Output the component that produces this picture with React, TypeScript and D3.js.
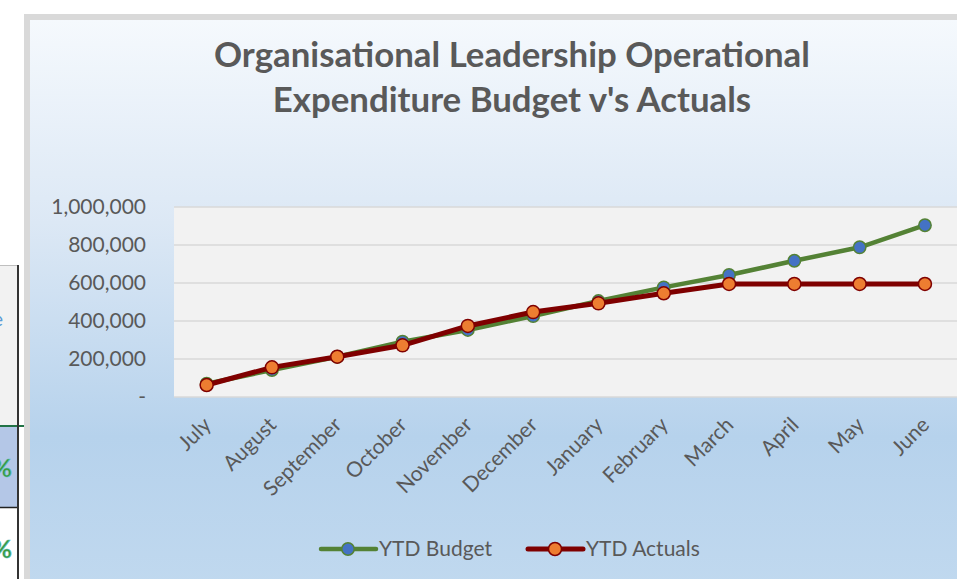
import React from "react";
import * as d3 from "d3";

const months = ["July","August","September","October","November","December","January","February","March","April","May","June"];
const budget = [70000,142000,212000,291000,353000,426000,505000,577000,642000,717000,788000,904000];
const actuals = [63000,156000,212000,272000,374000,447000,493000,546000,595000,595000,595000,595000];
const yTicks = [0,200000,400000,600000,800000,1000000];
const titleLines = ["Organisational Leadership Operational","Expenditure Budget v's Actuals"];
const seriesNames = ["YTD Budget","YTD Actuals"];

const W = 957, H = 579;
const FONT = "Lato, 'Open Sans', sans-serif";
const TXT = "#595959";

export default function App() {
  const x = d3.scaleBand<string>().domain(months).range([174, 957.6]).padding(0);
  const y = d3.scaleLinear().domain([0, 1000000]).range([397, 207]);
  const cx = (m: string) => (x(m) as number) + x.bandwidth() / 2;
  const line = d3.line<number>().x((_, i) => cx(months[i])).y(d => y(d));
  const fmt = d3.format(",");

  return (
    <svg width={W} height={H} style={{ position: "absolute", left: 0, top: 0, display: "block" }}>
      <defs>
        <linearGradient id="bg" x1="0" y1="0" x2="0" y2="1">
          <stop offset="0" stopColor="#f5f9fd" />
          <stop offset="0.35" stopColor="#dce8f5" />
          <stop offset="0.72" stopColor="#b6d2ec" />
          <stop offset="1" stopColor="#c1d9ef" />
        </linearGradient>
      </defs>
      <rect x={0} y={0} width={W} height={H} fill="#ffffff" />
      {/* spreadsheet fragments on the left */}
      <rect x={0} y={266} width={18} height={160} fill="#f2f2f2" />
      <line x1={0} y1={265.5} x2={18} y2={265.5} stroke="#bfbfbf" strokeWidth={1} />
      <rect x={0} y={427} width={18} height={80} fill="#b4c7e7" />
      <line x1={0} y1={426} x2={24} y2={426} stroke="#217346" strokeWidth={2} />
      <line x1={0} y1={507.5} x2={18} y2={507.5} stroke="#222" strokeWidth={1.5} />
      <line x1={18} y1={265} x2={18} y2={H} stroke="#333" strokeWidth={2} />
      <text x={3} y={326} fontFamily={FONT} fontSize={20} fill="#5b9bd5" textAnchor="end">e</text>
      <text x={12} y={477} fontFamily={FONT} fontSize={25} fontWeight="bold" fill="#3a9a3a" stroke="#5cc0c8" strokeWidth={0.5} textAnchor="end">%</text>
      <text x={12} y={558} fontFamily={FONT} fontSize={25} fontWeight="bold" fill="#3a9a3a" stroke="#5cc0c8" strokeWidth={0.5} textAnchor="end">%</text>
      {/* chart frame */}
      <rect x={24} y={14} width={W} height={H} fill="#d9d9d9" />
      <rect x={30} y={20} width={W} height={H} fill="url(#bg)" />
      {/* title */}
      {titleLines.map((t, i) => (
        <text key={t} x={512} y={67 + i * 45} textAnchor="middle" fontFamily={FONT} fontSize={34.8} fontWeight="bold" fill={TXT}>{t}</text>
      ))}
      {/* plot area */}
      <rect x={174} y={207} width={800} height={190} fill="#f2f2f2" />
      {yTicks.map(t => (
        <line key={t} x1={174} x2={W} y1={y(t)} y2={y(t)} stroke="#d9d9d9" strokeWidth={1.5} />
      ))}
      {yTicks.map(t => (
        <text key={"l" + t} x={146} y={y(t)} dy="0.35em" textAnchor="end" fontFamily={FONT} fontSize={21} fill={TXT}>
          {t === 0 ? "-" : fmt(t)}
        </text>
      ))}
      {months.map(m => (
        <text key={m} transform={`translate(${cx(m) + 0.5},${421}) rotate(-45)`} textAnchor="end" dy="0.35em" fontFamily={FONT} fontSize={21} fill={TXT}>{m}</text>
      ))}
      {/* series */}
      <path d={line(budget) || ""} fill="none" stroke="#548235" strokeWidth={4.5} strokeLinejoin="round" />
      {budget.map((v, i) => (
        <circle key={"b" + i} cx={cx(months[i])} cy={y(v)} r={6.2} fill="#4472c4" stroke="#548235" strokeWidth={1.5} />
      ))}
      <path d={line(actuals) || ""} fill="none" stroke="#7f0000" strokeWidth={5} strokeLinejoin="round" />
      {actuals.map((v, i) => (
        <circle key={"a" + i} cx={cx(months[i])} cy={y(v)} r={6.5} fill="#ed7d31" stroke="#7f0000" strokeWidth={1.5} />
      ))}
      {/* legend */}
      <line x1={321} x2={376} y1={549} y2={549} stroke="#548235" strokeWidth={4.5} strokeLinecap="round" />
      <circle cx={348} cy={549} r={6.2} fill="#4472c4" stroke="#548235" strokeWidth={1.5} />
      <text x={379} y={549} dy="0.35em" fontFamily={FONT} fontSize={21} fill={TXT}>{seriesNames[0]}</text>
      <line x1={528} x2={583} y1={549} y2={549} stroke="#7f0000" strokeWidth={5} strokeLinecap="round" />
      <circle cx={555} cy={549} r={6.5} fill="#ed7d31" stroke="#7f0000" strokeWidth={1.5} />
      <text x={586} y={549} dy="0.35em" fontFamily={FONT} fontSize={21} fill={TXT}>{seriesNames[1]}</text>
    </svg>
  );
}
